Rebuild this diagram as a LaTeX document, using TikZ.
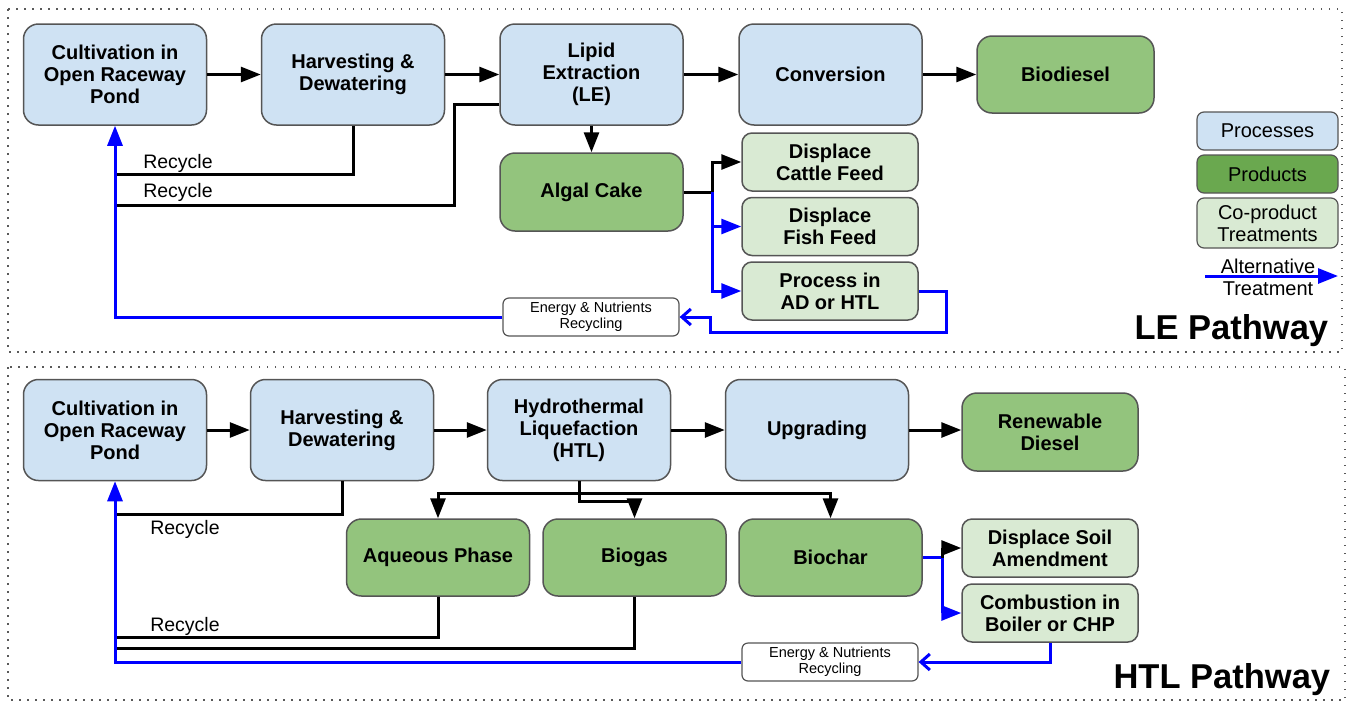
\documentclass[tikz,border=0pt]{standalone}
\usepackage{fontspec}
\setmainfont{Liberation Sans}
\usetikzlibrary{arrows.meta}
\definecolor{procfill}{HTML}{CFE2F3}
\definecolor{prodfill}{HTML}{93C47D}
\definecolor{prodleg}{HTML}{6AA84F}
\definecolor{cofill}{HTML}{D9EAD3}
\definecolor{edgegray}{HTML}{555555}
\definecolor{altblue}{HTML}{0000FF}
\begin{document}
\begin{tikzpicture}[x=1pt,y=-1pt,line width=3pt,
>={Triangle[length=20pt,width=15pt]},
procblock/.style={draw=edgegray,line width=1.5pt,fill=procfill,rounded corners=15pt,minimum width=183pt,minimum height=101pt,align=center,font=\fontsize{20}{22}\selectfont\bfseries},
prodblock/.style={procblock,fill=prodfill,minimum height=78pt},
coblock/.style={procblock,fill=cofill,rounded corners=10pt,minimum width=176pt,minimum height=58pt},
legblock/.style={draw=edgegray,line width=1.2pt,rounded corners=7pt,minimum width=141pt,minimum height=38pt,align=center,font=\fontsize{20}{22}\selectfont},
recybox/.style={draw=edgegray,line width=1.2pt,fill=white,rounded corners=6pt,minimum width=176pt,minimum height=38pt,align=center,font=\fontsize{14.5}{16}\selectfont},
recylabel/.style={font=\fontsize{19.5}{22}\selectfont},
pathlabel/.style={anchor=east,font=\fontsize{34.5}{36}\selectfont\bfseries},
alt/.style={draw=altblue},
recyarrow/.style={-{Straight Barb[length=9pt,width=16pt]}},
frame/.style={draw=gray!70!black,line width=2pt,dash pattern=on 1.5pt off 6.5pt}]
\useasboundingbox (0,0) rectangle (1347,702);

% LE pathway
\draw[frame] (8,9) rectangle (1342,352);
\draw (115,74.5) node[procblock] (cult1) {Cultivation in\\Open Raceway\\Pond};
\draw (353,74.5) node[procblock] (harv1) {Harvesting \&\\Dewatering};
\draw (591.5,74.5) node[procblock] (lipid) {Lipid\\Extraction\\(LE)};
\draw (830.5,74.5) node[procblock] (conv) {Conversion};
\draw (1065.5,74.5) node[prodblock,minimum width=177pt,minimum height=77pt] (biodiesel) {Biodiesel};
\draw (591.5,192) node[prodblock] (cake) {Algal Cake};
\draw (830,162) node[coblock] (cattle) {Displace\\Cattle Feed};
\draw (830,226.5) node[coblock] (fish) {Displace\\Fish Feed};
\draw (830,291) node[coblock] (adhtl) {Process in\\AD or HTL};
\draw (591,317) node[recybox] (recy1) {Energy \& Nutrients\\Recycling};

\draw[->] (cult1.east) -- (harv1.west);
\draw[->] (harv1.east) -- (lipid.west);
\draw[->] (lipid.east) -- (conv.west);
\draw[->] (conv.east) -- (biodiesel.west);
\draw[->] (lipid.south) -- (cake.north);

\coordinate (rec1) at (115,174);
\coordinate (rec2) at (115,205);
\draw (harv1.south) |- (rec1);
\draw ([yshift=-29.5pt]lipid.west) -- ++(-45,0) |- (rec2);
\draw (178,163) node[recylabel] (reclab1) {Recycle};
\draw (178,192) node[recylabel] (reclab2) {Recycle};
\draw[alt,->] (recy1.west) -| (cult1.south);

\coordinate (cakesplit) at (712,192);
\draw (cake.east) -- (cakesplit);
\draw[alt,->] (cakesplit) |- (fish.west);
\draw[alt,->] (cakesplit) |- (adhtl.west);
\draw[->] (cakesplit) |- (cattle.west);
\draw[alt,recyarrow] (adhtl.east) -- ++(28,0) -- ++(0,41) -| ([xshift=31pt]recy1.east) -- (recy1.east);

% legend
\draw (1267.5,131) node[legblock,fill=procfill] (legproc) {Processes};
\draw (1267.5,174) node[legblock,fill=prodleg] (legprod) {Products};
\draw (1267.5,223) node[legblock,fill=cofill,minimum height=50pt] (legco) {Co-product\\Treatments};
\coordinate (altstart) at (1205,276);
\coordinate (altend) at (1338,276);
\draw[alt,->] (altstart) -- (altend);
\draw (1268,277) node[legblock,draw=none] (alttext) {Alternative\\Treatment};
\draw (1333,331) node[pathlabel] (lepath) {LE Pathway};

% HTL pathway
\draw[frame] (8,367) rectangle (1345,700);
\draw (115,430) node[procblock] (cult2) {Cultivation in\\Open Raceway\\Pond};
\draw (342,430) node[procblock] (harv2) {Harvesting \&\\Dewatering};
\draw (579,430) node[procblock] (htl) {Hydrothermal\\Liquefaction\\(HTL)};
\draw (817,430) node[procblock] (upgr) {Upgrading};
\draw (1050,432) node[prodblock,minimum width=176pt] (rdiesel) {Renewable\\Diesel};
\draw (438,557.5) node[prodblock,minimum height=77pt] (aqueous) {Aqueous Phase};
\draw (634.5,557.5) node[prodblock,minimum height=77pt] (biogas) {Biogas};
\draw (830.5,557.5) node[prodblock,minimum height=77pt] (biochar) {Biochar};
\draw (1050,548) node[coblock] (soil) {Displace Soil\\Amendment};
\draw (1050,613) node[coblock] (combust) {Combustion in\\Boiler or CHP};
\draw (830,662) node[recybox] (recy2) {Energy \& Nutrients\\Recycling};

\draw[->] (cult2.east) -- (harv2.west);
\draw[->] (harv2.east) -- (htl.west);
\draw[->] (htl.east) -- (upgr.west);
\draw[->] (upgr.east) -- (upgr.east -| rdiesel.west);

\coordinate (htlsplit) at (579,493);
\draw (htl.south) -- (htlsplit);
\draw[->] (htlsplit) -| (aqueous.north);
\draw[->] (htlsplit) -| (biochar.north);
\draw[->] (htl.south) -- ++(0,20) -| (biogas.north);

\coordinate (rec3) at (115,514);
\coordinate (rec4) at (115,637);
\coordinate (rec5) at (115,648);
\draw (harv2.south) |- (rec3);
\draw (aqueous.south) |- (rec4);
\draw (biogas.south) |- (rec5);
\draw (185,529) node[recylabel] (reclab3) {Recycle};
\draw (185,626) node[recylabel] (reclab4) {Recycle};
\draw[alt,->] (recy2.west) -| (cult2.south);

\coordinate (charsplit) at (942,557.5);
\draw[alt] (biochar.east) -- (charsplit);
\draw[->] (charsplit) |- (soil.west);
\draw[alt,->] (charsplit) |- (combust.west);
\draw[alt,recyarrow] (combust.south) |- (recy2.east);
\draw (1335,680) node[pathlabel] (htlpath) {HTL Pathway};

\end{tikzpicture}
\end{document}
